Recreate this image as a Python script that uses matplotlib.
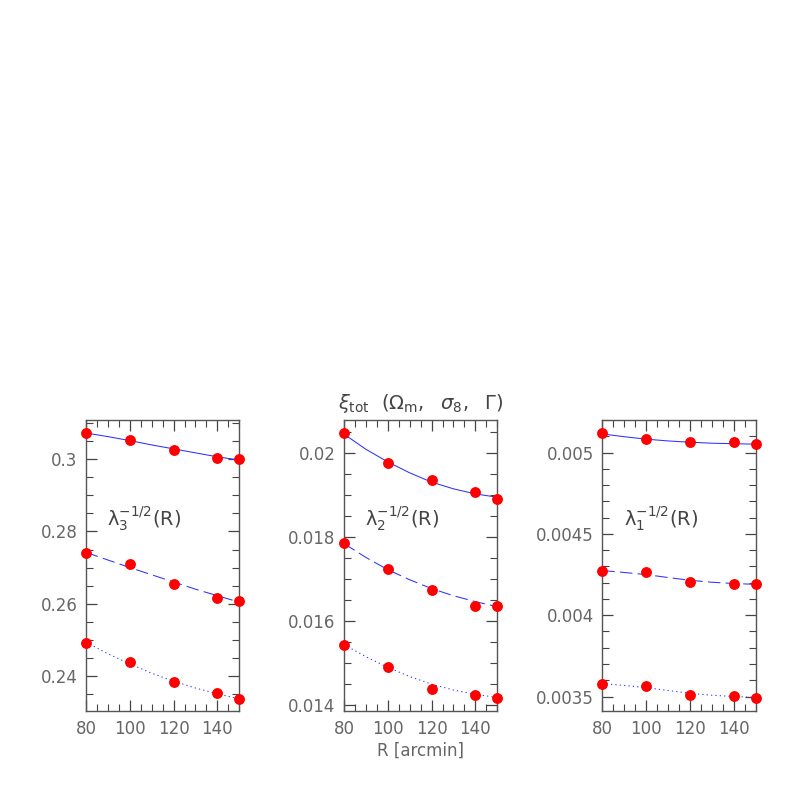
import numpy as np
import matplotlib.pyplot as plt
from matplotlib.ticker import MultipleLocator

# smoothing scales in arcmin
R = [80, 100, 120, 140, 150]
R_fit = [80, 90, 100, 110, 120, 130, 140, 150]

# measured points, one list per panel (solid / dashed / dotted rows)
lam3_pts = [[0.3074, 0.3054, 0.3026, 0.3003, 0.3000],
            [0.2741, 0.2709, 0.2655, 0.2615, 0.2607],
            [0.2491, 0.2438, 0.2384, 0.2353, 0.2336]]
lam2_pts = [[0.020457, 0.019763, 0.019344, 0.019060, 0.018903],
            [0.017844, 0.017227, 0.016735, 0.016363, 0.016355],
            [0.015431, 0.014917, 0.014389, 0.014246, 0.014166]]
lam1_pts = [[0.005118, 0.005086, 0.005066, 0.005067, 0.005051],
            [0.004275, 0.004263, 0.004206, 0.004189, 0.004193],
            [0.003580, 0.003567, 0.003509, 0.003502, 0.003492]]

# fitted curves at R_fit
lam3_fit = [[0.3073, 0.3063, 0.3052, 0.3040, 0.3029, 0.3018, 0.3007, 0.2998],
            [0.2742, 0.2721, 0.2700, 0.2680, 0.2660, 0.2640, 0.2622, 0.2604],
            [0.2493, 0.2461, 0.2433, 0.2407, 0.2385, 0.2366, 0.2350, 0.2336]]
lam2_fit = [[0.02044, 0.02008, 0.01978, 0.01952, 0.01930, 0.01914, 0.01902, 0.01894],
            [0.01784, 0.01751, 0.01722, 0.01698, 0.01677, 0.01660, 0.01646, 0.01634],
            [0.01544, 0.01515, 0.01490, 0.01468, 0.01450, 0.01436, 0.01426, 0.01418]]
lam1_fit = [[0.005115, 0.005098, 0.005083, 0.005072, 0.005064, 0.005058, 0.005055, 0.005052],
            [0.004275, 0.004263, 0.004250, 0.004232, 0.004215, 0.004203, 0.004195, 0.004190],
            [0.003580, 0.003568, 0.003555, 0.003537, 0.003520, 0.003508, 0.003500, 0.003495]]

labels = [u'\u03bb$_3^{-1/2}$(R)',
          u'\u03bb$_2^{-1/2}$(R)',
          u'\u03bb$_1^{-1/2}$(R)']

ylims = [(0.2301, 0.3109), (0.01385, 0.020775), (0.003408, 0.0052006)]
ymajor = [0.02, 0.002, 0.0005]
yminor = [0.005, 0.0005, 0.0001]
yfmt = [lambda v, p: '%g' % round(v, 3),
        lambda v, p: '%g' % round(v, 4),
        lambda v, p: '%g' % round(v, 5)]

gray = '#666666'
styles = ['-', (0, (12, 5)), (0, (1.2, 3))]

fig = plt.figure(figsize=(7.97, 7.97), dpi=100)
lefts = [0.1079, 0.4316, 0.7557]

for i, (pts, fit) in enumerate([(lam3_pts, lam3_fit), (lam2_pts, lam2_fit), (lam1_pts, lam1_fit)]):
    ax = fig.add_axes([lefts[i], 0.1073, 0.1923, 0.3657])
    for k in range(3):
        ax.plot(R_fit, fit[k], color='#3030ff', lw=0.75, ls=styles[k])
        ax.plot(R, pts[k], 'o', color='red', ms=6.8, clip_on=False, zorder=5)
    ax.set_xlim(80, 150)
    ax.set_ylim(*ylims[i])
    ax.xaxis.set_major_locator(MultipleLocator(20))
    ax.xaxis.set_minor_locator(MultipleLocator(5))
    ax.yaxis.set_major_locator(MultipleLocator(ymajor[i]))
    ax.yaxis.set_minor_locator(MultipleLocator(yminor[i]))
    ax.yaxis.set_major_formatter(plt.FuncFormatter(yfmt[i]))
    ax.tick_params(which='both', direction='in', top=True, right=True,
                   color='#444444', labelcolor=gray, labelsize=12, pad=6)
    ax.tick_params(which='major', length=8, width=0.9)
    ax.tick_params(which='minor', length=5, width=0.8)
    for s in ax.spines.values():
        s.set_color('#555555')
        s.set_linewidth(1.0)
    ax.text(0.14, 0.64, labels[i], transform=ax.transAxes, fontsize=14,
            color='#444444')
    if i == 1:
        ax.set_title(r'$\xi_{\rm tot}\ \ (\Omega_{\rm m},\ \ \sigma_8,\ \ \Gamma)$',
                     fontsize=14, color='#444444', pad=8)
        ax.set_xlabel('R [arcmin]', fontsize=12, color=gray, labelpad=3)

fig.savefig('out.png', dpi=100)
